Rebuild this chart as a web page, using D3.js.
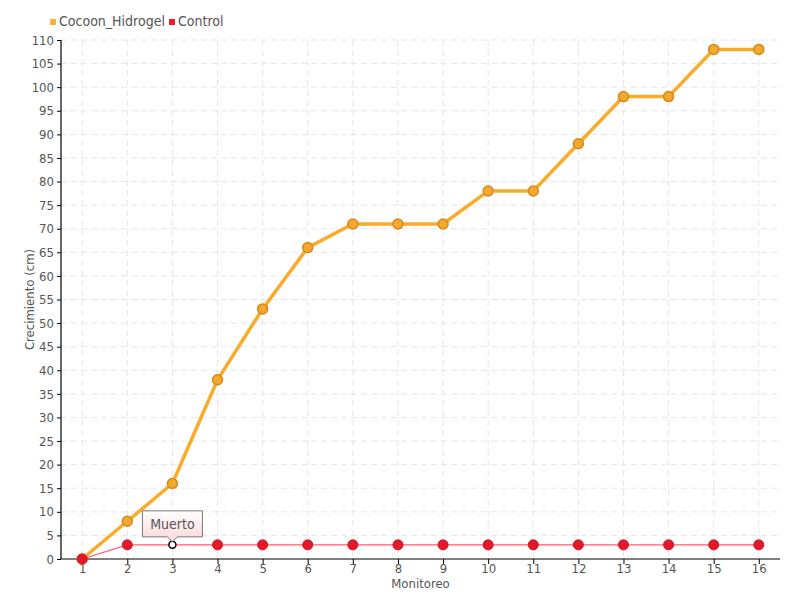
<!DOCTYPE html>
<html>
<head>
<meta charset="utf-8">
<script src="https://cdn.jsdelivr.net/npm/d3@7"></script>
<style>
body { margin: 0; background: #fff; }
text { font-family: "Liberation Sans Narrow", "DejaVu Sans Condensed", sans-serif; fill: #555; }
</style>
</head>
<body>
<div id="chart"></div>
<script>
var monitoreo = ["1","2","3","4","5","6","7","8","9","10","11","12","13","14","15","16"];
var cocoon = [0, 8, 16, 38, 53, 66, 71, 71, 71, 78, 78, 88, 98, 98, 108, 108];
var control = [0, 3, 3, 3, 3, 3, 3, 3, 3, 3, 3, 3, 3, 3, 3, 3];
var yTicks = d3.range(0, 111, 5);
var seriesNames = ["Cocoon_Hidrogel", "Control"];

var W = 800, H = 600;
var m = { left: 61, right: 780, top: 40, bottom: 559 };

var svg = d3.select('#chart').append('svg')
	.attr('width', W)
	.attr('height', H);

var x = d3.scalePoint().domain(monitoreo).range([m.left, m.right]).padding(0.47);
var y = d3.scaleLinear().domain([0, 110]).range([m.bottom, m.top]);

// grid
svg.append('g').selectAll('line').data(yTicks.slice(1)).enter().append('line')
	.attr('x1', m.left).attr('x2', m.right)
	.attr('y1', function (d) { return y(d); }).attr('y2', function (d) { return y(d); })
	.attr('stroke', '#e6e6e6').attr('stroke-dasharray', '6,4');
svg.append('g').selectAll('line').data(monitoreo).enter().append('line')
	.attr('x1', function (d) { return x(d); }).attr('x2', function (d) { return x(d); })
	.attr('y1', m.top).attr('y2', m.bottom)
	.attr('stroke', '#e6e6e6').attr('stroke-dasharray', '6,4');

// axes
var yAxis = svg.append('g').attr('transform', 'translate(' + m.left + ',0)')
	.call(d3.axisLeft(y).tickValues(yTicks).tickSize(4).tickPadding(3));
var xAxis = svg.append('g').attr('transform', 'translate(0,' + m.bottom + ')')
	.call(d3.axisBottom(x).tickSize(5).tickPadding(0));
[yAxis, xAxis].forEach(function (a) {
	a.select('.domain').attr('stroke', '#000').attr('stroke-width', 1.2);
	a.selectAll('.tick line').attr('stroke', '#000');
	a.selectAll('text').style('font-size', '13px').attr('fill', '#555');
});
xAxis.select('.domain').attr('d', 'M' + m.left + ',0H' + m.right);
yAxis.select('.domain').attr('d', 'M0,' + m.top + 'V' + m.bottom);

// axis titles
svg.append('text').attr('x', (m.left + m.right) / 2).attr('y', 588)
	.attr('text-anchor', 'middle').style('font-size', '13px').text('Monitoreo');
svg.append('text').attr('transform', 'translate(34,' + ((m.top + m.bottom) / 2) + ') rotate(-90)')
	.attr('text-anchor', 'middle').style('font-size', '13px').text('Crecimiento (cm)');

var line = d3.line()
	.x(function (d, i) { return x(monitoreo[i]); })
	.y(function (d) { return y(d); });

// cocoon series
svg.append('path').datum(cocoon).attr('d', line)
	.attr('fill', 'none').attr('stroke', '#fbab2a').attr('stroke-width', 3.5);
svg.append('g').selectAll('circle').data(cocoon).enter().append('circle')
	.attr('cx', function (d, i) { return x(monitoreo[i]); })
	.attr('cy', function (d) { return y(d); })
	.attr('r', 5)
	.attr('fill', '#f5a830').attr('stroke', '#d48a1a').attr('stroke-width', 1.5);

// control series
svg.append('path').datum(control).attr('d', line)
	.attr('fill', 'none').attr('stroke', '#ff5c6c').attr('stroke-width', 1.3);
svg.append('g').selectAll('circle').data(control).enter().append('circle')
	.attr('cx', function (d, i) { return x(monitoreo[i]); })
	.attr('cy', function (d) { return y(d); })
	.attr('r', function (d, i) { return i === 2 ? 3.5 : 5; })
	.attr('fill', function (d, i) { return i === 2 ? '#fff' : '#e3182a'; })
	.attr('stroke', function (d, i) { return i === 2 ? '#000' : '#d01525'; })
	.attr('stroke-width', function (d, i) { return i === 2 ? 1.5 : 1; });

// tooltip "Muerto"
var defs = svg.append('defs');
var grad = defs.append('linearGradient').attr('id', 'tip').attr('x1', 0).attr('y1', 0).attr('x2', 0).attr('y2', 1);
grad.append('stop').attr('offset', '0%').attr('stop-color', '#ffffff');
grad.append('stop').attr('offset', '100%').attr('stop-color', '#fbd6d8');
var px = x(monitoreo[2]), py = y(control[2]);
var tw = 60, th = 26, tb = py - 8;
svg.append('path')
	.attr('d', 'M' + (px - tw / 2) + ',' + (tb - th) + 'h' + tw + 'v' + th + 'h' + (-tw / 2 + 5) +
		'l-5,5l-5,-5h' + (-tw / 2 + 5) + 'z')
	.attr('fill', 'url(#tip)').attr('stroke', '#777').attr('stroke-width', 1);
svg.append('text').attr('x', px).attr('y', tb - 8).attr('text-anchor', 'middle')
	.style('font-size', '14px').attr('fill', '#444').text('Muerto');

// legend
var legColors = ['#fbb22a', '#ee1c2e'];
var legX = [50, 169];
var leg = svg.append('g').selectAll('g').data(seriesNames).enter().append('g')
	.attr('transform', function (d, i) { return 'translate(' + legX[i] + ',0)'; });
leg.append('rect').attr('x', 0).attr('y', 19).attr('width', 6).attr('height', 6)
	.attr('fill', function (d, i) { return legColors[i]; });
leg.append('text').attr('x', 9).attr('y', 26).style('font-size', '14px').attr('fill', '#444')
	.text(function (d) { return d; });
</script>
</body>
</html>
